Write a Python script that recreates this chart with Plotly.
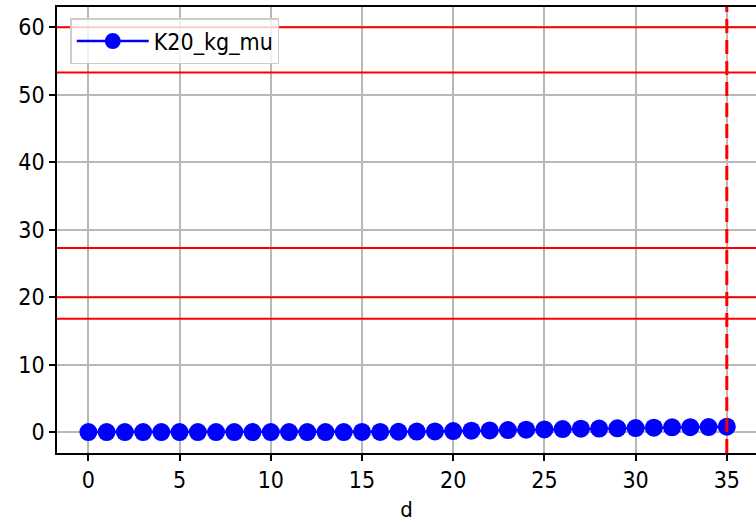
import plotly.graph_objects as go

days = list(range(36))
k20_kg_mu = [0.0, 0.0, 0.0, 0.0, 0.0, 0.0, 0.0, 0.0, 0.0, 0.0,
             0.0, 0.0, 0.0, 0.0, 0.0, 0.02, 0.03, 0.05, 0.07, 0.1,
             0.15, 0.2, 0.25, 0.3, 0.35, 0.4, 0.45, 0.5, 0.52, 0.55,
             0.6, 0.65, 0.7, 0.72, 0.75, 0.8]
hline_values = [60, 53.3, 27.3, 20, 16.8]
vline_day = 35

font_family = "DejaVu Sans Condensed, Noto Sans, sans-serif"

fig = go.Figure()
fig.add_trace(go.Scatter(
    x=days, y=k20_kg_mu, mode="lines+markers", name="K20_kg_mu",
    line=dict(color="blue", width=2.5),
    marker=dict(color="blue", size=18),
))

for yv in hline_values:
    fig.add_shape(type="line", xref="paper", x0=0, x1=1, yref="y", y0=yv, y1=yv,
                  line=dict(color="red", width=2), layer="above")
fig.add_shape(type="line", xref="x", x0=vline_day, x1=vline_day, yref="paper", y0=0, y1=1,
              line=dict(color="red", width=3, dash="14px,7px"), layer="above")

axis_common = dict(
    showgrid=True, gridcolor="#b8b8b8", gridwidth=1.5,
    showline=True, linecolor="black", linewidth=1.5, mirror=True,
    ticks="outside", ticklen=6, tickcolor="black", tickwidth=1.5,
    zeroline=False, tickfont=dict(size=23, color="black"), automargin=False,
)

fig.update_xaxes(range=[-1.72, 36.6], tickvals=[0, 5, 10, 15, 20, 25, 30, 35],
                 title=dict(text="d", font=dict(size=22, color="black"), standoff=16),
                 **axis_common)
fig.update_yaxes(range=[-3.1, 63], tickvals=[0, 10, 20, 30, 40, 50, 60], **axis_common)

fig.update_layout(
    width=756, height=522,
    margin=dict(l=57, r=0, t=7, b=69),
    paper_bgcolor="white", plot_bgcolor="white",
    font=dict(family=font_family, size=23, color="black"),
    showlegend=True,
    legend=dict(x=0.019, y=0.975, xanchor="left", yanchor="top",
                bgcolor="rgba(255,255,255,0.8)", bordercolor="#cccccc", borderwidth=1.5,
                font=dict(size=23), itemwidth=72),
)

fig.write_html("out.html", config={"displayModeBar": False},
               post_script="document.body.style.margin='0';document.body.style.overflow='hidden';")
